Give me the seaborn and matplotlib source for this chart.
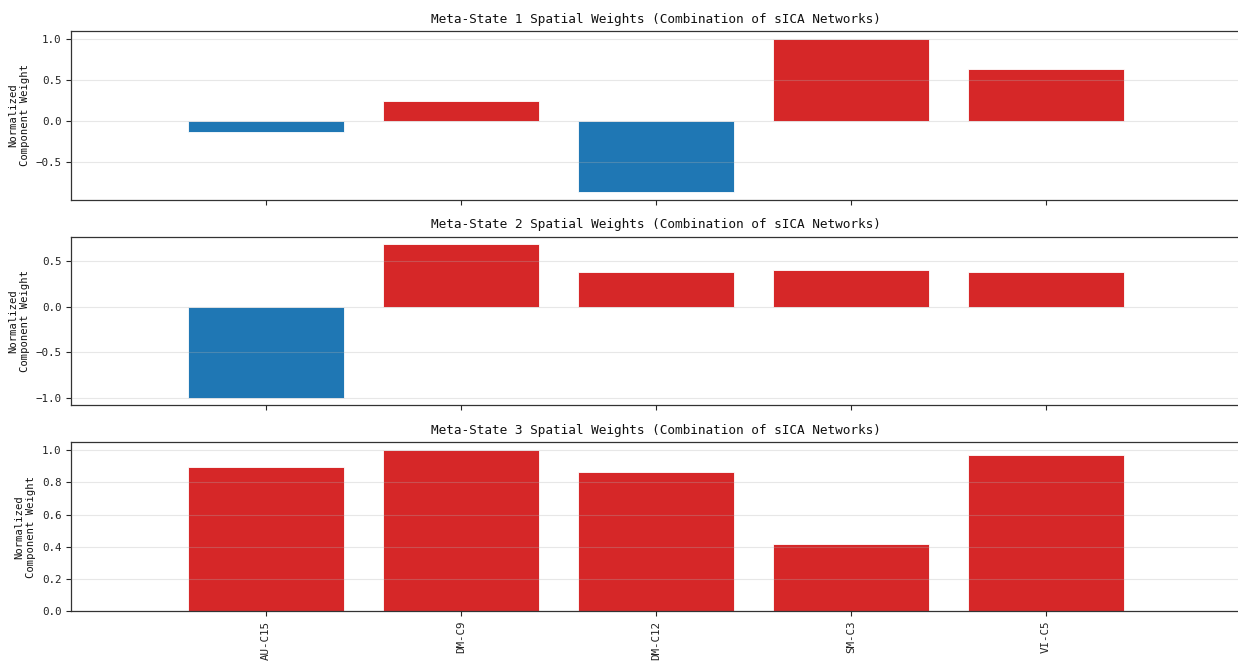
import matplotlib
matplotlib.use("Agg")
import matplotlib.pyplot as plt
import seaborn as sns
import pandas as pd
from matplotlib.ticker import MultipleLocator

# Network components (sICA) and their normalized weights in each meta-state
networks = ["AU-C15", "DM-C9", "DM-C12", "SM-C3", "VI-C5"]
state1_weights = [-0.134, 0.244, -0.866, 1.0, 0.634]
state2_weights = [-1.0, 0.689, 0.389, 0.410, 0.389]
state3_weights = [0.899, 1.0, 0.868, 0.415, 0.969]
state_titles = [
    "Meta-State 1 Spatial Weights (Combination of sICA Networks)",
    "Meta-State 2 Spatial Weights (Combination of sICA Networks)",
    "Meta-State 3 Spatial Weights (Combination of sICA Networks)",
]
ytick_steps = [0.5, 0.5, 0.2]

POS_COLOR = "#d62728"
NEG_COLOR = "#1f77b4"

sns.set_theme(style="ticks")
plt.rcParams["font.family"] = ["DejaVu Sans Mono", "DejaVu Sans"]
plt.rcParams["axes.unicode_minus"] = True

fig, axes = plt.subplots(3, 1, figsize=(12.38, 6.62), dpi=100, sharex=True)
fig.subplots_adjust(left=0.0574, right=1.0025, top=0.9532, bottom=0.077, hspace=0.219)

for ax, weights, title, step in zip(axes, [state1_weights, state2_weights, state3_weights],
                                     state_titles, ytick_steps):
    df = pd.DataFrame({"network": networks, "weight": weights})
    colors = [POS_COLOR if w >= 0 else NEG_COLOR for w in weights]
    sns.barplot(data=df, x="network", y="weight", hue="network", palette=colors,
                legend=False, saturation=1, width=0.8, edgecolor="white",
                linewidth=0.6, ax=ax)
    ax.set_xlim(-1, 5)
    ax.margins(y=0.05)
    ax.yaxis.set_major_locator(MultipleLocator(step))
    ax.set_axisbelow(False)
    ax.grid(axis="y", color="#b0b0b0", alpha=0.3, linewidth=0.8)
    ax.grid(axis="x", visible=False)
    ax.set_title(title, fontsize=9.2, pad=6, color="#111111")
    ax.set_xlabel("")
    ax.set_ylabel("Normalized\nComponent Weight", fontsize=7.6, linespacing=1.25,
                  color="#111111")
    ax.tick_params(axis="both", labelsize=7.8, length=3.5, width=0.8, direction="out",
                   labelcolor="#222222")
    for s in ax.spines.values():
        s.set_color("#333333")
        s.set_linewidth(0.9)

axes[-1].tick_params(axis="x", labelrotation=90)

fig.savefig("out.png", dpi=100)
